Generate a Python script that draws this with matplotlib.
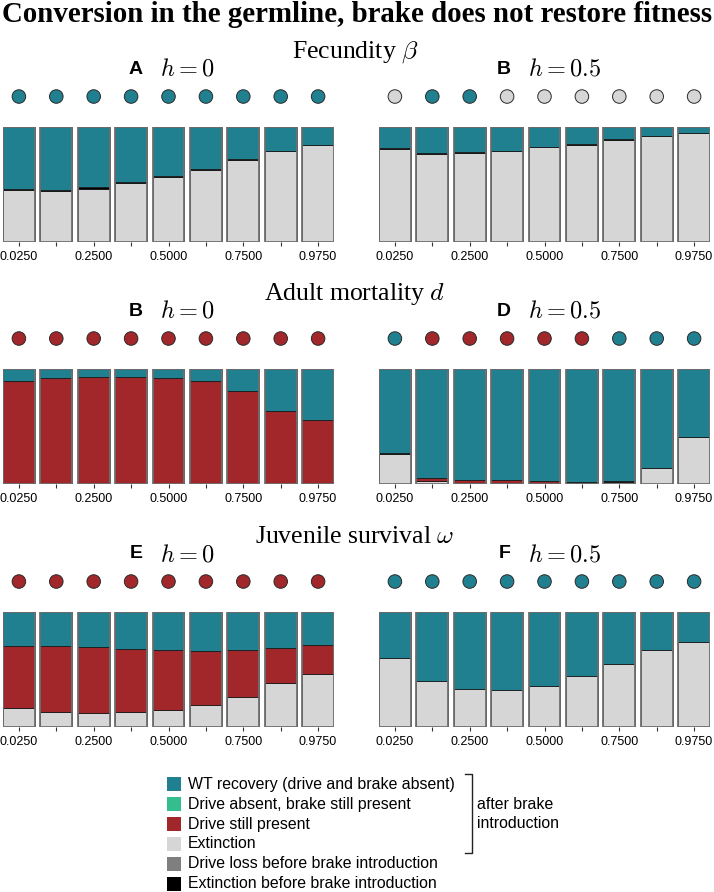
import matplotlib
matplotlib.use('Agg')
import matplotlib.pyplot as plt
from matplotlib.patches import Rectangle
from matplotlib.lines import Line2D
import numpy as np

plt.rcParams['mathtext.fontset'] = 'cm'
SANS = 'Liberation Sans'
SERIF = 'Liberation Serif'

# ---------------- data ----------------
x_ticklabels = ['0.0250', '', '0.2500', '', '0.5000', '', '0.7500', '', '0.9750']

# Fecundity, h=0 (A)
A_ext = [0.450, 0.440, 0.465, 0.511, 0.563, 0.628, 0.711, 0.787, 0.840]
A_extb = [0.012, 0.012, 0.012, 0.010, 0.009, 0.008, 0.007, 0.006, 0.005]
A_drive = [0, 0, 0, 0, 0, 0, 0, 0, 0]
A_dots = ['wt'] * 9

# Fecundity, h=0.5 (B)
B_ext = [0.812, 0.769, 0.778, 0.792, 0.824, 0.847, 0.891, 0.920, 0.946]
B_extb = [0.002, 0.002, 0.002, 0.002, 0.002, 0.002, 0.002, 0.002, 0.002]
B_drive = [0, 0, 0, 0, 0, 0, 0, 0, 0]
B_dots = ['ext', 'wt', 'wt', 'ext', 'ext', 'ext', 'ext', 'ext', 'ext']

# Adult mortality, h=0 (B)
C_ext = [0, 0, 0, 0, 0, 0, 0, 0, 0.004]
C_extb = [0, 0, 0, 0, 0, 0, 0, 0, 0]
C_drive = [0.899, 0.919, 0.928, 0.931, 0.922, 0.893, 0.810, 0.631, 0.555]
C_dots = ['drive'] * 9

# Adult mortality, h=0.5 (D)
D_ext = [0.262, 0.026, 0.005, 0.005, 0.005, 0.005, 0.018, 0.135, 0.410]
D_extb = [0.008, 0.004, 0.002, 0.002, 0.002, 0.002, 0.007, 0.004, 0.002]
D_drive = [0.0, 0.026, 0.032, 0.032, 0.022, 0.014, 0.0, 0.0, 0.0]
D_dots = ['wt', 'drive', 'drive', 'drive', 'drive', 'drive', 'wt', 'wt', 'wt']

# Juvenile survival, h=0 (E)
E_ext = [0.168, 0.133, 0.125, 0.128, 0.145, 0.188, 0.261, 0.386, 0.461]
E_extb = [0, 0, 0, 0, 0, 0, 0, 0, 0]
E_drive = [0.536, 0.568, 0.568, 0.550, 0.527, 0.476, 0.406, 0.298, 0.255]
E_dots = ['drive'] * 9

# Juvenile survival, h=0.5 (F)
F_ext = [0.603, 0.400, 0.333, 0.325, 0.359, 0.441, 0.545, 0.670, 0.742]
F_extb = [0, 0, 0, 0, 0, 0, 0, 0, 0]
F_drive = [0, 0, 0, 0, 0, 0, 0, 0, 0]
F_dots = ['wt'] * 9

legend_labels = ['WT recovery (drive and brake absent)',
                 'Drive absent, brake still present',
                 'Drive still present',
                 'Extinction',
                 'Drive loss before brake introduction',
                 'Extinction before brake introduction']

row_titles = [r'Fecundity $\beta$', r'Adult mortality $d$', r'Juvenile survival $\omega$']

# ---------------- style ----------------
C_WT = '#21808F'
C_GREEN = '#35BE8D'
C_DRIVE = '#A2272A'
C_EXT = '#D6D6D6'
C_LOSS = '#7F7F7F'
C_EXTB = '#000000'
legend_colors = [C_WT, C_GREEN, C_DRIVE, C_EXT, C_LOSS, C_EXTB]
dot_color = {'wt': C_WT, 'drive': C_DRIVE, 'ext': C_EXT}

W, H = 714, 892
fig = plt.figure(figsize=(W / 100, H / 100), dpi=100)


def fx(px):
    return px / W


def fy(py):
    return 1 - py / H


BAR_W = 0.85


def draw_panel(ax, ext, extb, drive, dots):
    n = len(ext)
    x = np.arange(n)
    ext = np.array(ext, float)
    extb = np.array(extb, float)
    drive = np.array(drive, float)
    loss = np.zeros(n)
    green = np.zeros(n)
    wt = 1 - ext - extb - drive - loss - green
    bottom = np.zeros(n)
    for vals, col in [(ext, C_EXT), (extb, C_EXTB), (loss, C_LOSS),
                      (drive, C_DRIVE), (green, C_GREEN), (wt, C_WT)]:
        m = vals > 0
        if m.any():
            ax.bar(x[m], vals[m], bottom=bottom[m], width=BAR_W, color=col,
                   edgecolor='#1a1a1a', linewidth=0.6)
        bottom = bottom + vals
    ax.bar(x, np.ones(n), width=BAR_W, fill=False, edgecolor='#707070', linewidth=1.3)
    ax.scatter(x, np.full(n, 1.265), s=95, c=[dot_color[d] for d in dots],
               edgecolors='#2a2a2a', linewidths=0.7, clip_on=False, zorder=5)
    ax.set_xlim(-BAR_W / 2, n - 1 + BAR_W / 2)
    ax.set_ylim(0, 1)
    ax.set_xticks(x)
    ax.set_xticklabels(x_ticklabels, fontfamily=SANS, fontsize=9)
    ax.tick_params(axis='x', length=3.2, width=0.8, color='#333333', pad=3)
    ax.set_yticks([])
    for s in ax.spines.values():
        s.set_visible(False)


panels = [
    [(A_ext, A_extb, A_drive, A_dots, 'A', '$h=0$'),
     (B_ext, B_extb, B_drive, B_dots, 'B', '$h=0.5$')],
    [(C_ext, C_extb, C_drive, C_dots, 'B', '$h=0$'),
     (D_ext, D_extb, D_drive, D_dots, 'D', '$h=0.5$')],
    [(E_ext, E_extb, E_drive, E_dots, 'E', '$h=0$'),
     (F_ext, F_extb, F_drive, F_dots, 'F', '$h=0.5$')],
]

row_tops = [127, 369, 612]
PH = 115
col_x = [(3, 334), (379, 710)]
letter_right = [143, 511]
h_left = [160, 528]

for r, row in enumerate(panels):
    top = row_tops[r]
    fig.text(fx(355), fy(top - 75), row_titles[r], family=SERIF, fontsize=18.5,
             ha='center', va='center')
    for c, (ext, extb, drive, dots, letter, htxt) in enumerate(row):
        x0, x1 = col_x[c]
        ax = fig.add_axes([fx(x0), fy(top + PH), fx(x1 - x0), PH / H])
        draw_panel(ax, ext, extb, drive, dots)
        fig.text(fx(letter_right[c]), fy(top - 58), letter, family=SANS,
                 fontweight='bold', fontsize=14, ha='right', va='center')
        fig.text(fx(h_left[c]), fy(top - 58), htxt, fontsize=17.5,
                 ha='left', va='center')

fig.text(fx(357), fy(15), 'Conversion in the germline, brake does not restore fitness',
         family=SERIF, fontweight='bold', fontsize=20.8, ha='center', va='center')

# ---------------- legend ----------------
leg_y0 = 784
leg_dy = 20
sq = 14
for i, (lab, col) in enumerate(zip(legend_labels, legend_colors)):
    yc = leg_y0 + i * leg_dy
    fig.patches.append(Rectangle((fx(167), fy(yc + sq / 2)), sq / W, sq / H,
                                 transform=fig.transFigure, facecolor=col,
                                 edgecolor='none'))
    fig.text(fx(188), fy(yc), lab, family=SANS, fontsize=11.4, ha='left',
             va='center')

bx = 472
fig.add_artist(Line2D([fx(465), fx(bx), fx(bx), fx(465)],
                      [fy(774), fy(774), fy(853), fy(853)],
                      transform=fig.transFigure, color='#222222', linewidth=1.0))
fig.text(fx(477), fy(814), 'after brake\nintroduction', family=SANS, fontsize=11.4,
         ha='left', va='center', linespacing=1.35)

fig.savefig('out.png', dpi=100)
